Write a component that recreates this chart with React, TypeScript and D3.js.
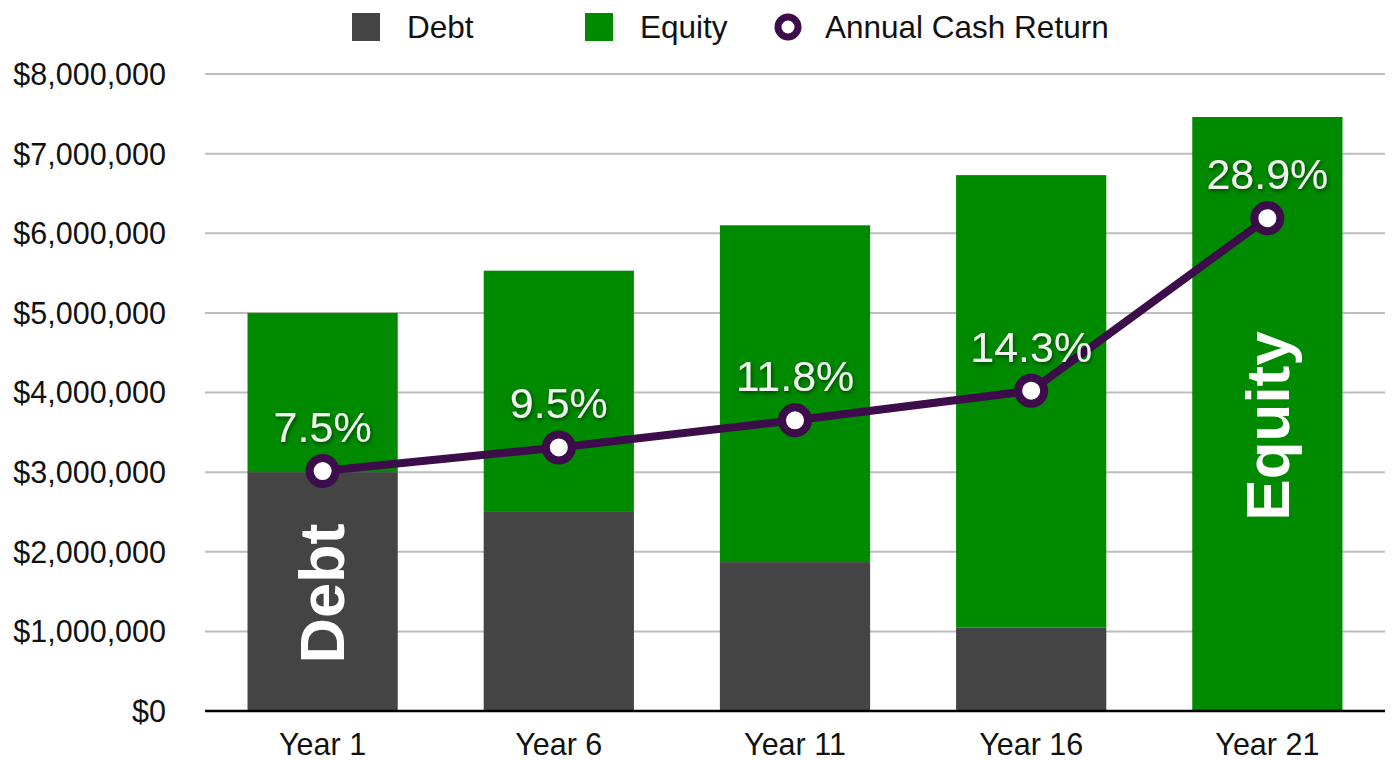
import React from "react";
import * as d3 from "d3";

const categories = ["Year 1", "Year 6", "Year 11", "Year 16", "Year 21"];
const debt = [3000000, 2500000, 1870000, 1050000, 0];
const equity = [2000000, 3030000, 4230000, 5680000, 7460000];
const cashReturn = [7.5, 9.5, 11.8, 14.3, 28.9];
const yTicks = [0, 1000000, 2000000, 3000000, 4000000, 5000000, 6000000, 7000000, 8000000];

const W = 1392;
const H = 760;
const FONT = "'Helvetica Neue', Helvetica, 'Liberation Sans', Arial, sans-serif";
const DEBT_C = "#444444";
const EQ_C = "#008a00";
const LINE_C = "#3d0c4a";

export default function App() {
  const left = 205, right = 1385, top = 74, bottom = 711;
  const x = d3.scaleBand<string>().domain(categories).range([left, right]).paddingInner(0.364).paddingOuter(0.18);
  const y = d3.scaleLinear().domain([0, 8000000]).range([bottom, top]);
  const yp = d3.scaleLinear().domain([-12.8, 41.1]).range([bottom, top]);
  const fmt = (v: number) => "$" + d3.format(",")(v);
  const cx = (c: string) => (x(c) as number) + x.bandwidth() / 2;
  const line = d3.line<number>().x((_, i) => cx(categories[i])).y((d) => yp(d));

  const debtMid = y(debt[0] / 2) + 2;
  const eqMid = y(equity[4] / 2) + 12;

  return (
    <svg width={W} height={H} style={{ position: "absolute", left: 0, top: 0, background: "#fff" }} fontFamily={FONT}>
      <defs>
        <filter id="sh" x="-20%" y="-30%" width="140%" height="160%">
          <feDropShadow dx="1" dy="2" stdDeviation="2" floodColor="#000" floodOpacity="0.55" />
        </filter>
      </defs>
      {/* legend */}
      <g>
        <rect x={352} y={13} width={28} height={28} fill={DEBT_C} />
        <text x={407} y={38} fontSize={31.5} fill="#111">Debt</text>
        <rect x={585} y={13} width={28} height={28} fill={EQ_C} />
        <text x={640} y={38} fontSize={31.5} fill="#111">Equity</text>
        <circle cx={788} cy={27} r={10} fill="#fff" stroke={LINE_C} strokeWidth={7} />
        <text x={825} y={38} fontSize={31.5} fill="#111">Annual Cash Return</text>
      </g>
      {/* grid */}
      {yTicks.map((t) => (
        <g key={t}>
          {t > 0 && <line x1={left} x2={right} y1={y(t)} y2={y(t)} stroke="#bdbdbd" strokeWidth={2} />}
          <text x={166} y={y(t)} dy="0.36em" textAnchor="end" fontSize={30.5} fill="#111">{fmt(t)}</text>
        </g>
      ))}
      {/* bars */}
      {categories.map((c, i) => (
        <g key={c}>
          {debt[i] > 0 && <rect x={x(c)} y={y(debt[i])} width={x.bandwidth()} height={y(0) - y(debt[i])} fill={DEBT_C} />}
          <rect x={x(c)} y={y(debt[i] + equity[i])} width={x.bandwidth()} height={y(debt[i]) - y(debt[i] + equity[i])} fill={EQ_C} />
          <text x={cx(c)} y={744} dy="0.36em" textAnchor="middle" fontSize={30.5} fill="#111">{c}</text>
        </g>
      ))}
      <line x1={left} x2={right} y1={bottom} y2={bottom} stroke="#000" strokeWidth={2.5} />
      {/* inside labels */}
      <text transform={`translate(${cx(categories[0]) + 21},${debtMid}) rotate(-90)`} textAnchor="middle" fontSize={63} fontWeight="bold" fill="#fff">Debt</text>
      <text transform={`translate(${cx(categories[4]) + 22},${eqMid}) rotate(-90)`} textAnchor="middle" fontSize={62} fontWeight="bold" fill="#fff">Equity</text>
      {/* line */}
      <path d={line(cashReturn) as string} fill="none" stroke={LINE_C} strokeWidth={8} strokeLinejoin="round" />
      {cashReturn.map((v, i) => (
        <g key={i}>
          <circle cx={cx(categories[i])} cy={yp(v)} r={13} fill="#fff" stroke={LINE_C} strokeWidth={8} />
          <text x={cx(categories[i])} y={yp(v) - 29} textAnchor="middle" fontSize={43} fill="#f2f2f2" filter="url(#sh)">{v.toFixed(1) + "%"}</text>
        </g>
      ))}
    </svg>
  );
}
